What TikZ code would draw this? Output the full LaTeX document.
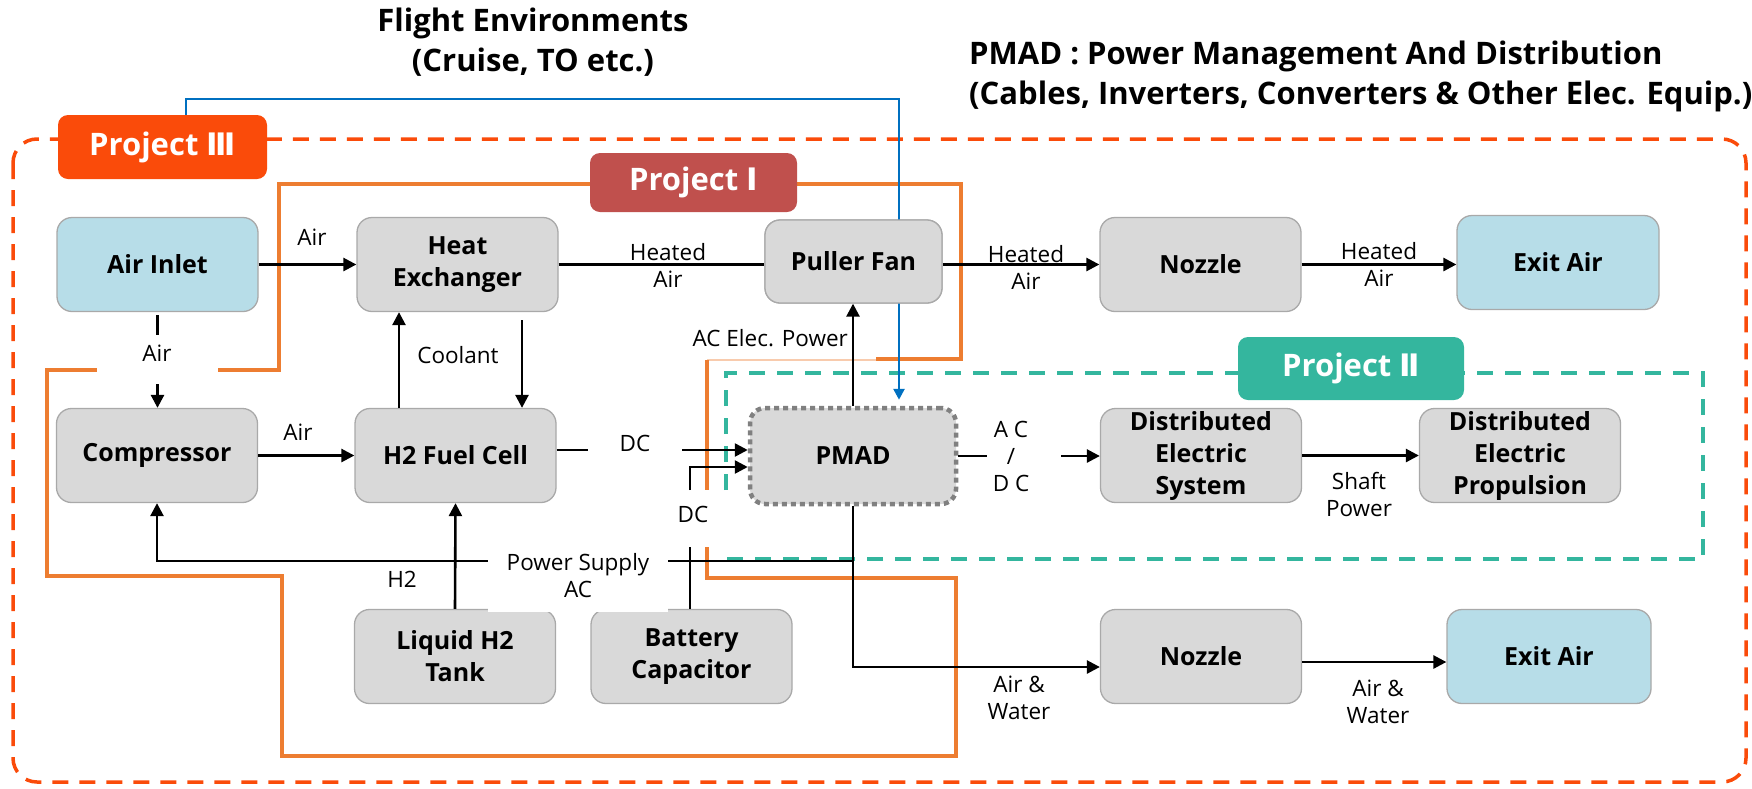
\documentclass[tikz,border=0pt]{standalone}
\usepackage{fontspec}
\setmainfont{Open Sans}
\newfontfamily\numfont{DejaVu Sans}
\usetikzlibrary{arrows.meta}
\definecolor{boxgray}{HTML}{D9D9D9}
\definecolor{bordergray}{HTML}{A9A9A9}
\definecolor{lightblue}{HTML}{B7DDE8}
\definecolor{p3col}{HTML}{FA4B0A}
\definecolor{p1col}{HTML}{C0504D}
\definecolor{p1line}{HTML}{ED7D31}
\definecolor{p1thin}{HTML}{F8CBAD}
\definecolor{p2col}{HTML}{34B69E}
\definecolor{blueln}{HTML}{0070C0}
\definecolor{dotgray}{HTML}{808080}
\begin{document}
\begin{tikzpicture}[x=1pt,y=-1pt,
  box/.style={draw=bordergray, fill=boxgray, line width=1.3pt, rounded corners=15pt,
    minimum width=201pt, minimum height=94pt, align=center, inner sep=0pt,
    font=\bfseries\fontsize{25}{32}\selectfont},
  bluebox/.style={box, fill=lightblue},
  pmadbox/.style={box, draw=dotgray, line width=4.5pt, dash pattern=on 5pt off 4pt},
  arr/.style={line width=2.6pt, -{Triangle[length=13pt,width=13pt]}},
  ln/.style={line width=2.6pt},
  lbl/.style={font=\fontsize{22.5}{27}\selectfont, align=center, inner sep=0pt},
  tag/.style={rounded corners=10pt, text=white, inner sep=0pt,
    font=\bfseries\fontsize{31}{34}\selectfont},
  titletext/.style={font=\bfseries\fontsize{31}{40}\selectfont, inner sep=0pt},
  p1path/.style={draw=p1line, line width=3.5pt},
]
\useasboundingbox (0,0) rectangle (1752,788);

% titles
\node[titletext, align=center] (fe) at (533,42) {Flight Environments\\(Cruise, TO etc.)};
\node[titletext, align=left, anchor=west] (pm) at (969,76) {PMAD : Power Management And Distribution\\(Cables, Inverters, Converters \& Other Elec. Equip.)};

% Project III frame
\draw[draw=p3col, line width=3.5pt, dash pattern=on 16pt off 11pt, rounded corners=24pt] (13,139) rectangle (1746,782);

% Project I outline
\draw[p1path] (218,370) -- (279,370) -- (279,184) -- (961,184) -- (961,359) -- (876,359);
\draw[draw=p1thin, line width=1.2pt] (876,360) -- (707,360);
\draw[p1path] (707,360) -- (707,490);
\draw[p1path] (707,547) -- (707,578) -- (956,578) -- (956,756) -- (282,756) -- (282,576) -- (47,576) -- (47,370) -- (97,370);

% Project II outline
\draw[draw=p2col, line width=3.5pt, dash pattern=on 16pt off 12pt] (726,490) -- (726,373) -- (1703,373) -- (1703,559) -- (726,559);

% coordinates
\coordinate (clstart) at (522,320);
\coordinate (dc1a) at (588,450);
\coordinate (dc1b) at (682,450);
\coordinate (dc2a) at (690,547);
\coordinate (dc2b) at (690,490);
\coordinate (dc2c) at (690,467);
\coordinate (acdca) at (987,456);
\coordinate (acdcb) at (1061,456);

% boxes
\node[bluebox] (airin) at (157.5,264.5) {Air Inlet};
\node[box] (hx) at (457.5,264.5) {Heat\\Exchanger};
\node[box, minimum width=177pt, minimum height=83pt] (fan) at (853.5,261.5) {Puller Fan};
\node[box] (noz1) at (1200.5,264.5) {Nozzle};
\node[bluebox, minimum width=202pt] (exit1) at (1558,262.5) {Exit Air};
\node[box] (comp) at (157,455.5) {Compressor};
\node[box] (fc) at (455.5,455.5) {H2 Fuel Cell};
\node[pmadbox, minimum width=206pt, minimum height=96pt] (pmad) at (853,456) {PMAD};
\node[box] (des) at (1201,455.5) {Distributed\\Electric\\System};
\node[box] (dep) at (1520,455.5) {Distributed\\Electric\\Propulsion};
\node[box] (tank) at (455,656.5) {Liquid H2\\Tank};
\node[box] (batt) at (691.5,656.5) {Battery\\Capacitor};
\node[box] (noz2) at (1201,656.5) {Nozzle};
\node[bluebox, minimum width=204pt] (exit2) at (1549,656.5) {Exit Air};

% connectors
\draw[arr] (airin.east) -- (airin.east -| hx.west);
\draw[ln] (hx.east) -- (hx.east -| fan.west);
\draw[arr] (fan.east |- noz1.west) -- (noz1.west);
\draw[arr] (noz1.east) -- (noz1.east -| exit1.west);
\draw[ln] (airin.south |- 0,315) -- (airin.south |- 0,335);
\draw[arr] (airin.south |- 0,384) -- (airin.south |- comp.north);
\draw[arr] (comp.east) -- (fc.west);
\draw[arr] (fc.north -| 399,0) -- (hx.south -| 399,0);
\draw[arr] (clstart) -- (fc.north -| clstart);
\draw[ln] (fc.east |- dc1a) -- (dc1a);
\draw[arr] (dc1b) -- (pmad.west |- dc1b);
\draw[ln] (batt.north -| dc2a) -- (dc2a);
\draw[arr] (dc2b) -- (dc2c) -- (pmad.west |- dc2c);
\draw[arr] (pmad.north) -- (pmad.north |- fan.south);
\draw[ln] (pmad.east) -- (acdca);
\draw[arr] (acdcb) -- (des.west |- acdcb);
\draw[arr] (des.east) -- (dep.west);
\draw[arr] (pmad.south) -- (pmad.south |- 0,667) -- (noz2.west |- 0,667);
\draw[arr] (noz2.east |- 0,662) -- (exit2.west |- 0,662);
\draw[arr] (pmad.south |- 0,561) -- (comp.south |- 0,561) -- (comp.south);
\draw[arr] (tank.north) -- (fc.south);

% tags
\node[tag, fill=p3col, minimum width=209pt, minimum height=64pt] (p3tag) at (162.5,147) {Project {\numfont Ⅲ}};
\node[tag, fill=p1col, minimum width=207pt, minimum height=59pt] (p1tag) at (693.5,182.5) {Project {\numfont Ⅰ}};
\node[tag, fill=p2col, minimum width=226pt, minimum height=63pt] (p2tag) at (1351,368.5) {Project {\numfont Ⅱ}};

% blue line
\draw[draw=blueln, line width=2.6pt, -{Triangle[length=11pt,width=11pt]}]
  ([xshift=23.5pt]p3tag.north) -- ([xshift=23.5pt]p3tag.north |- 0,99) -- (899,99) -- ([xshift=46pt,yshift=6pt]pmad.north);
% redraw fan on top of blue line
\node[box, minimum width=177pt, minimum height=83pt] (fan2) at (fan) {Puller Fan};

% labels
\node[lbl] (l1) at (312,237) {Air};
\node[lbl] (l2) at (668,265) {Heated\\Air};
\node[lbl] (l3) at (1026,267) {Heated\\Air};
\node[lbl] (l4) at (1379,264) {Heated\\Air};
\node[lbl] (l5) at (157,353) {Air};
\node[lbl] (l6) at (458,355) {Coolant};
\node[lbl, anchor=east] (l7) at (848,338) {AC Elec. Power};
\node[lbl] (l8) at (298,432) {Air};
\node[lbl] (l9) at (635,443) {DC};
\node[lbl] (l10) at (693,514) {DC};
\node[lbl] (l11) at (1011,456) {A C\\/\\D C};
\node[lbl] (l12) at (1359,494) {Shaft\\Power};
\node[lbl] (l13) at (402,579) {H2};
\node[lbl, fill=white, minimum width=180pt, minimum height=72pt] (l14) at (578,576) {Power Supply\\AC};
\node[lbl] (l15) at (1019,698) {Air \&\\Water};
\node[lbl] (l16) at (1378,702) {Air \&\\Water};
\end{tikzpicture}
\end{document}
